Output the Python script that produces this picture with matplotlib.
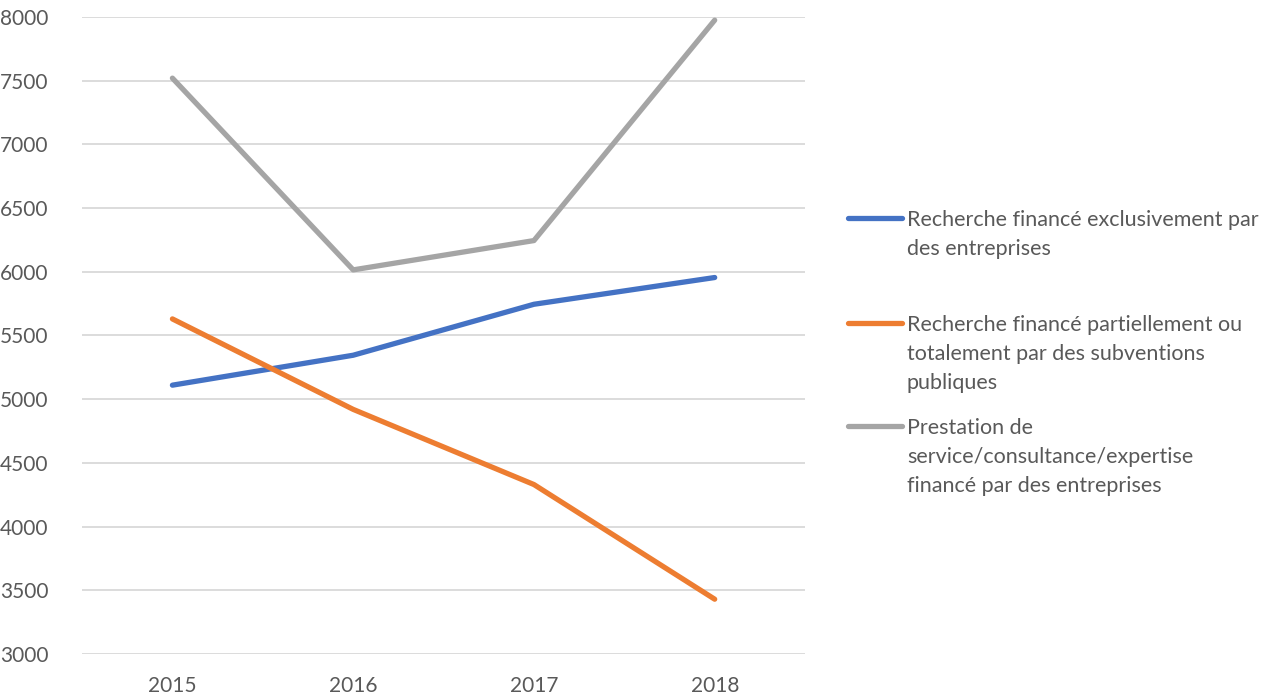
import matplotlib.pyplot as plt
from matplotlib.lines import Line2D

plt.rcParams['font.family'] = ['Lato', 'DejaVu Sans']

years = ['2015', '2016', '2017', '2018']
series_labels = [
    'Recherche financé exclusivement par\ndes entreprises',
    'Recherche financé partiellement ou\ntotalement par des subventions\npubliques',
    'Prestation de\nservice/consultance/expertise\nfinancé par des entreprises',
]
exclusif = [5110, 5345, 5745, 5955]
subventions = [5630, 4920, 4330, 3430]
prestation = [7520, 6015, 6245, 7975]
colors = ['#4472C4', '#ED7D31', '#A5A5A5']

text_color = '#595959'

fig = plt.figure(figsize=(12.84, 6.99), dpi=100)
ax = fig.add_axes([0.0639, 0.0644, 0.5631, 0.9113])

x = range(len(years))
for vals, c in zip([exclusif, subventions, prestation], colors):
    ax.plot(x, vals, color=c, linewidth=3.8, solid_capstyle='round',
            solid_joinstyle='round', zorder=3)

ax.set_xlim(-0.5, 3.5)
ax.set_ylim(3000, 8000)
ax.set_yticks(range(3000, 8001, 500))
ax.set_xticks(list(x))
ax.set_xticklabels(years)
ax.yaxis.grid(True, color='#D9D9D9', linewidth=1.3)
ax.set_axisbelow(True)
for s in ax.spines.values():
    s.set_visible(False)
ax.tick_params(length=0, labelsize=15, labelcolor=text_color)
ax.tick_params(axis='y', pad=24)
ax.tick_params(axis='x', pad=16)

# légende
leg_y = [218, 323, 426]
for lab, c, yp in zip(series_labels, colors, leg_y):
    yf = 1 - yp / 699
    fig.add_artist(Line2D([848 / 1284, 902 / 1284], [yf, yf], color=c,
                          linewidth=3.8, solid_capstyle='round'))
    fig.text(907 / 1284, 1 - (yp - 8) / 699, lab, ha='left', va='top',
             fontsize=15.5, color=text_color, linespacing=1.55)

fig.savefig('out.png', dpi=100)
